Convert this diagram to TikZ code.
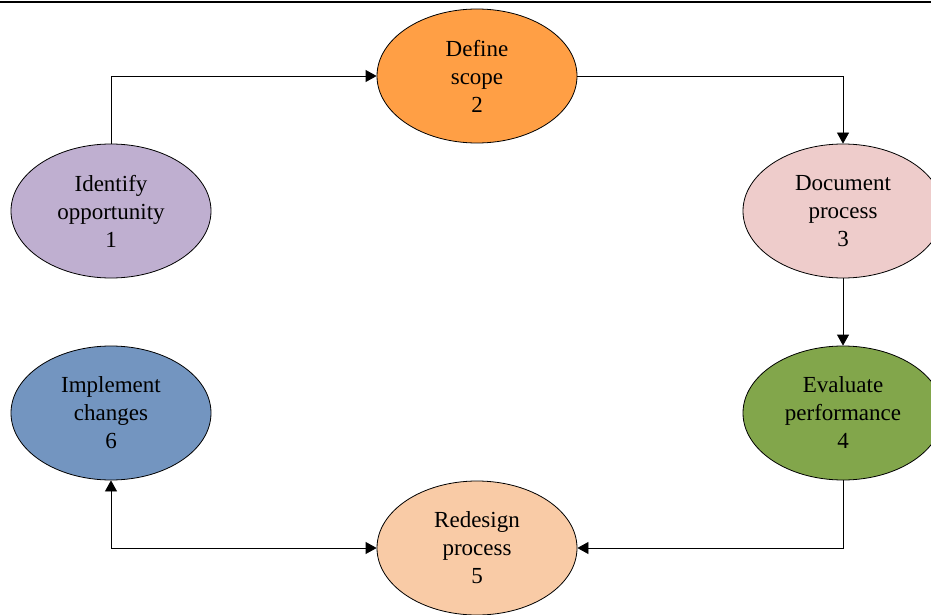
\documentclass[tikz,border=0pt]{standalone}
\usepackage{fontspec}
\setmainfont{Liberation Serif}
\usetikzlibrary{shapes.geometric,arrows.meta}
\definecolor{stageA}{HTML}{BFAFD0}
\definecolor{stageB}{HTML}{FF9F45}
\definecolor{stageC}{HTML}{EECCCB}
\definecolor{stageD}{HTML}{82A64B}
\definecolor{stageE}{HTML}{F9CBA6}
\definecolor{stageF}{HTML}{7395C0}
\begin{document}
\begin{tikzpicture}[x=1pt,y=-1pt,
  stage/.style={ellipse,draw=black,line width=0.8pt,minimum width=200pt,
    minimum height=134pt,inner sep=0pt,align=center,
    font=\fontsize{23}{28}\selectfont},
  flow/.style={line width=0.8pt,-{Triangle[length=11pt,width=12pt]}},
  twoway/.style={line width=0.8pt,{Triangle[length=11pt,width=12pt]}-{Triangle[length=11pt,width=12pt]}}]
\useasboundingbox (0,0) rectangle (931,615);
\clip (0,0) rectangle (931,615);
% header rule
\draw[line width=1.3pt] (0,2) -- (931,2);
% process stages
\node[stage,fill=stageA] (s1) at (111,211) {Identify\\opportunity\\1};
\node[stage,fill=stageB] (s2) at (477,76)  {Define\\scope\\2};
\node[stage,fill=stageC] (s3) at (843,211) {Document\\process\\3};
\node[stage,fill=stageD] (s4) at (843,413) {Evaluate\\performance\\4};
\node[stage,fill=stageE] (s5) at (477,548) {Redesign\\process\\5};
\node[stage,fill=stageF] (s6) at (111,413) {Implement\\changes\\6};
% connectors
\draw[flow] (s1.north) |- (s2.west);
\draw[flow] (s2.east) -| (s3.north);
\draw[flow] (s3.south) -- (s4.north);
\draw[flow] (s4.south) |- (s5.east);
\draw[twoway] (s6.south) |- (s5.west);
\end{tikzpicture}
\end{document}
